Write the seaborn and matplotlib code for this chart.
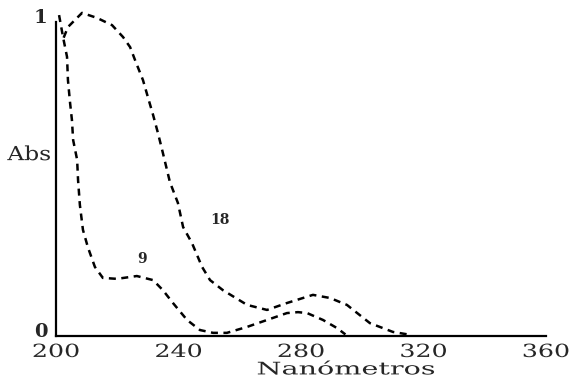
import numpy as np
import pandas as pd
import matplotlib
matplotlib.use("Agg")
import matplotlib.pyplot as plt
import matplotlib.patheffects as pe
from matplotlib.transforms import Affine2D, ScaledTranslation
import seaborn as sns

# spectrum of compound 9 (wavelength nm, absorbance)
wl_9 = [201.0, 202.3, 203.6, 203.9, 204.6, 205.2, 205.6, 206.9, 207.2, 207.8,
        208.8, 210.4, 212.7, 215.3, 219.9, 226.4, 231.7, 234.9, 238.2, 242.8,
        247.0, 251.3, 255.8, 262.4, 268.9, 275.4, 279.0, 282.0, 287.2, 291.8, 294.5]
abs_9 = [1.022, 0.952, 0.889, 0.815, 0.742, 0.688, 0.624, 0.561, 0.497, 0.417,
         0.338, 0.283, 0.220, 0.185, 0.182, 0.191, 0.178, 0.146, 0.105, 0.051,
         0.019, 0.010, 0.010, 0.029, 0.051, 0.073, 0.076, 0.073, 0.051, 0.025, 0.005]

# spectrum of compound 18
wl_18 = [202.5, 203.9, 208.5, 213.4, 218.3, 221.9, 224.2, 225.8, 228.4, 230.0,
         231.7, 233.3, 234.9, 237.2, 239.8, 241.5, 244.4, 247.7, 250.3, 254.5,
         262.4, 268.9, 275.4, 283.9, 289.5, 295.0, 302.5, 310.0, 315.5]
abs_18 = [0.95, 0.984, 1.029, 1.013, 0.990, 0.952, 0.920, 0.879, 0.815, 0.761,
          0.704, 0.646, 0.583, 0.490, 0.424, 0.347, 0.296, 0.220, 0.178, 0.146,
          0.099, 0.083, 0.105, 0.131, 0.121, 0.099, 0.041, 0.013, 0.004]

x_ticks = [200, 240, 280, 320, 360]
y_ticks = [0, 1]
curve_labels = ["9", "18"]
label_pos = [(228.1, 0.245), (253.6, 0.369)]


class Stretch(pe.AbstractPathEffect):
    """Widen glyphs horizontally, like the scanned original."""

    def __init__(self, sx, anchor="center"):
        super().__init__()
        self.sx = sx
        self.anchor = anchor

    def draw_path(self, renderer, gc, tpath, affine, rgbFace=None):
        ext = tpath.get_extents()
        cx = {"left": ext.x0, "center": (ext.x0 + ext.x1) / 2, "right": ext.x1}[self.anchor]
        widen = Affine2D().translate(-cx, 0).scale(self.sx, 1).translate(cx, 0)
        renderer.draw_path(gc, tpath, widen + affine, rgbFace)


sns.set_style("white")
plt.rcParams["font.family"] = ["DejaVu Serif"]

fig = plt.figure(figsize=(5.75, 3.79), dpi=100)
ax = fig.add_axes([56 / 575, 43 / 379, 490 / 575, 314 / 379])

dash = (0, (2.8, 2.2))
df9 = pd.DataFrame({"nm": wl_9, "abs": abs_9})
df18 = pd.DataFrame({"nm": wl_18, "abs": abs_18})
for df in (df9, df18):
    sns.lineplot(data=df, x="nm", y="abs", ax=ax, color="black", lw=1.8,
                 linestyle=dash, sort=False, estimator=None, clip_on=False)

for txt, (x, y) in zip(curve_labels, label_pos):
    ax.text(x, y, txt, fontsize=10, fontweight="bold", ha="center", va="center")

ax.set_xlim(200, 360)
ax.set_ylim(0, 1)
ax.set_xticks(x_ticks)
ax.set_xticklabels([str(t) for t in x_ticks])
ax.set_yticks(y_ticks)
ax.set_yticklabels([str(t) for t in y_ticks])
ax.tick_params(axis="x", length=0, pad=5, labelsize=13)
ax.tick_params(axis="y", length=0, pad=6, labelsize=14)

for lab in ax.get_xticklabels():
    lab.set_path_effects([Stretch(1.4)])
shift = ScaledTranslation(0, 0.06, fig.dpi_scale_trans)
for lab in ax.get_yticklabels():
    lab.set_transform(lab.get_transform() + shift)
    lab.set_fontweight("bold")

ax.set_xlabel("Nanómetros", fontsize=12.5, va="center")
ax.xaxis.set_label_coords(0.592, -0.108)
ax.xaxis.label.set_path_effects([Stretch(1.65)])

ax.set_ylabel("Abs", fontsize=14, rotation=0, ha="right", va="center")
ax.yaxis.set_label_coords(-0.01, 0.576)
ax.yaxis.label.set_path_effects([Stretch(1.2, "right")])

sns.despine(ax=ax)
for side in ("left", "bottom"):
    ax.spines[side].set_color("black")
    ax.spines[side].set_linewidth(1.6)

fig.savefig("out.png", dpi=100)
